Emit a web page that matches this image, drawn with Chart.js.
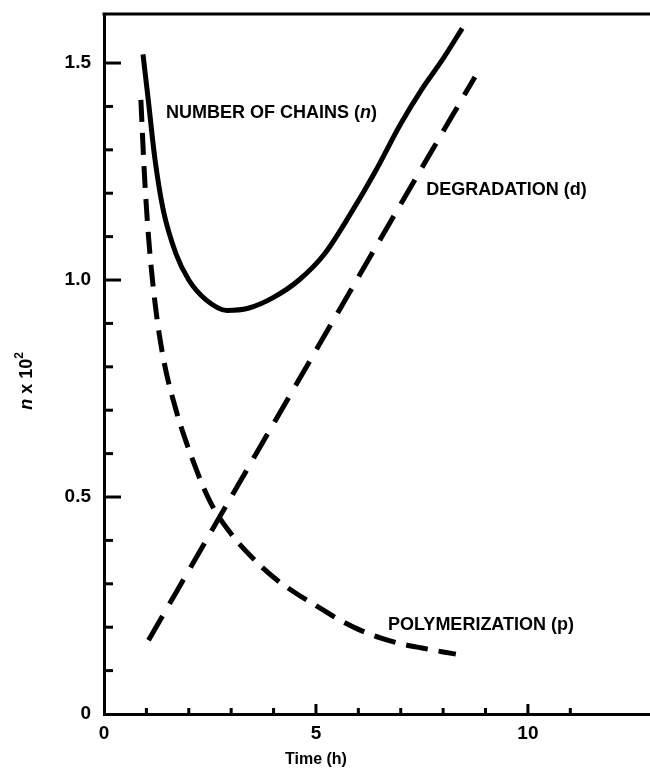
<!DOCTYPE html>
<html>
<head>
<meta charset="utf-8">
<script src="https://cdn.jsdelivr.net/npm/chart.js@4/dist/chart.umd.min.js"></script>
<style>
  html, body { margin: 0; padding: 0; background: #fff; }
  #wrap { width: 650px; height: 772px; position: relative; }
</style>
</head>
<body>
<div id="wrap"><canvas id="c" width="650" height="772"></canvas></div>
<script>
// ---- data ----
const nTime   = [0.92, 1.05, 1.2, 1.4, 1.7, 2.0, 2.4, 2.9, 3.4, 4.0, 4.6, 5.2, 5.8, 6.4, 7.0, 7.5, 8.0, 8.45];
const nValues = [1.52, 1.41, 1.28, 1.16, 1.06, 1.0, 0.955, 0.93, 0.935, 0.96, 1.0, 1.06, 1.15, 1.25, 1.36, 1.44, 1.51, 1.58];

const dTime   = [1.05, 3.0, 5.0, 7.0, 8.75];
const dValues = [0.17, 0.50, 0.838, 1.175, 1.468];

const pTime   = [0.87, 0.95, 1.05, 1.2, 1.4, 1.7, 2.0, 2.5, 3.0, 3.5, 4.0, 4.5, 5.0, 5.5, 6.0, 6.5, 7.0, 7.5, 8.0, 8.3];
const pValues = [1.415, 1.25, 1.1, 0.95, 0.82, 0.7, 0.61, 0.49, 0.415, 0.36, 0.315, 0.28, 0.25, 0.22, 0.195, 0.176, 0.162, 0.152, 0.143, 0.138];

const xTickLabels = ['0', '5', '10'];
const yTickLabels = ['0', '0.5', '1.0', '1.5'];

const curveLabels = [
  { parts: [['NUMBER OF CHAINS (', 'normal'], ['n', 'italic'], [')', 'normal']], x: 1.46, y: 1.385 },
  { parts: [['DEGRADATION (d)', 'normal']], x: 7.6, y: 1.207 },
  { parts: [['POLYMERIZATION (p)', 'normal']], x: 6.7, y: 0.205 }
];

const FONT = '"Liberation Sans", Arial, Helvetica, sans-serif';

function pts(xs, ys) { return xs.map((x, i) => ({ x: x, y: ys[i] })); }

const decor = {
  id: 'decor',
  afterDraw(chart) {
    const { ctx, chartArea: a, scales: { x, y } } = chart;
    ctx.save();
    ctx.strokeStyle = '#000';
    ctx.lineWidth = 3;
    ctx.lineCap = 'butt';
    // top frame line
    ctx.beginPath();
    ctx.moveTo(a.left - 1.5, a.top);
    ctx.lineTo(a.right, a.top);
    ctx.stroke();
    // inward y ticks
    y.ticks.forEach(t => {
      const v = t.value;
      const k = Math.round(v * 10);
      if (Math.abs(v * 10 - k) > 1e-6 || k <= 0) return;
      const len = (k % 5 === 0) ? 17 : 9;
      const py = y.getPixelForValue(v);
      ctx.beginPath();
      ctx.moveTo(a.left, py);
      ctx.lineTo(a.left + len, py);
      ctx.stroke();
    });
    // inward x ticks
    x.ticks.forEach(t => {
      const v = t.value;
      if (Math.abs(v - Math.round(v)) > 1e-6 || v <= 0) return;
      const len = (Math.round(v) % 5 === 0) ? 10 : 6;
      const px = x.getPixelForValue(v);
      ctx.beginPath();
      ctx.moveTo(px, a.bottom);
      ctx.lineTo(px, a.bottom - len);
      ctx.stroke();
    });
    // x title
    ctx.fillStyle = '#000';
    ctx.font = 'bold 16px ' + FONT;
    ctx.textAlign = 'center';
    ctx.textBaseline = 'middle';
    ctx.fillText('Time (h)', x.getPixelForValue(5), 760);
    // y title: n x 10^2
    ctx.save();
    ctx.translate(26, 381);
    ctx.rotate(-Math.PI / 2);
    ctx.textBaseline = 'alphabetic';
    ctx.textAlign = 'left';
    const f1 = 'italic bold 18px ' + FONT, f2 = 'bold 18px ' + FONT, f3 = 'bold 12px ' + FONT;
    ctx.font = f1; const w1 = ctx.measureText('n').width;
    ctx.font = f2; const w2 = ctx.measureText(' x 10').width;
    ctx.font = f3; const w3 = ctx.measureText('2').width;
    let sx = -(w1 + w2 + w3) / 2;
    ctx.font = f1; ctx.fillText('n', sx, 6); sx += w1;
    ctx.font = f2; ctx.fillText(' x 10', sx, 6); sx += w2;
    ctx.font = f3; ctx.fillText('2', sx, -3);
    ctx.restore();
    // curve labels
    ctx.textBaseline = 'middle';
    ctx.textAlign = 'left';
    curveLabels.forEach(l => {
      let px = x.getPixelForValue(l.x);
      const py = y.getPixelForValue(l.y);
      l.parts.forEach(([txt, style]) => {
        ctx.font = (style === 'italic' ? 'italic ' : '') + 'bold 18px ' + FONT;
        ctx.fillText(txt, px, py);
        px += ctx.measureText(txt).width;
      });
    });
    ctx.restore();
  }
};

const common = { pointRadius: 0, borderColor: '#000', fill: false, cubicInterpolationMode: 'monotone', borderCapStyle: 'butt' };

new Chart(document.getElementById('c'), {
  type: 'line',
  data: {
    datasets: [
      Object.assign({ label: 'n', data: pts(nTime, nValues), borderWidth: 5 }, common),
      Object.assign({ label: 'd', data: pts(dTime, dValues), borderWidth: 5, borderDash: [28, 14] }, common),
      Object.assign({ label: 'p', data: pts(pTime, pValues), borderWidth: 5, borderDash: [22, 11] }, common)
    ]
  },
  options: {
    responsive: false,
    animation: false,
    layout: { padding: { top: 14, right: 0, left: 0, bottom: 0 } },
    plugins: { legend: { display: false }, tooltip: { enabled: false } },
    scales: {
      x: {
        type: 'linear', min: 0, max: 12.88,
        grid: { display: false, drawTicks: false },
        border: { display: true, color: '#000', width: 3 },
        ticks: {
          stepSize: 1, padding: 8, color: '#000', maxRotation: 0, autoSkip: false,
          font: { family: FONT, size: 19, weight: 'bold' },
          callback: v => { const i = xTickLabels.indexOf(String(v)); return i >= 0 ? xTickLabels[i] : ''; }
        },
        afterFit: s => { s.height = 58; s.paddingLeft = 0; s.paddingRight = 0; }
      },
      y: {
        type: 'linear', min: 0, max: 1.613,
        grid: { display: false, drawTicks: false },
        border: { display: true, color: '#000', width: 3 },
        ticks: {
          stepSize: 0.1, padding: 13, color: '#000', autoSkip: false,
          font: { family: FONT, size: 19, weight: 'bold' },
          callback: v => {
            const k = Math.round(v * 10);
            if (Math.abs(v * 10 - k) > 1e-6 || k % 5 !== 0) return '';
            return yTickLabels[k / 5] || '';
          }
        },
        afterFit: s => { s.width = 104; s.paddingTop = 0; s.paddingBottom = 0; }
      }
    }
  },
  plugins: [decor]
});
</script>
</body>
</html>
